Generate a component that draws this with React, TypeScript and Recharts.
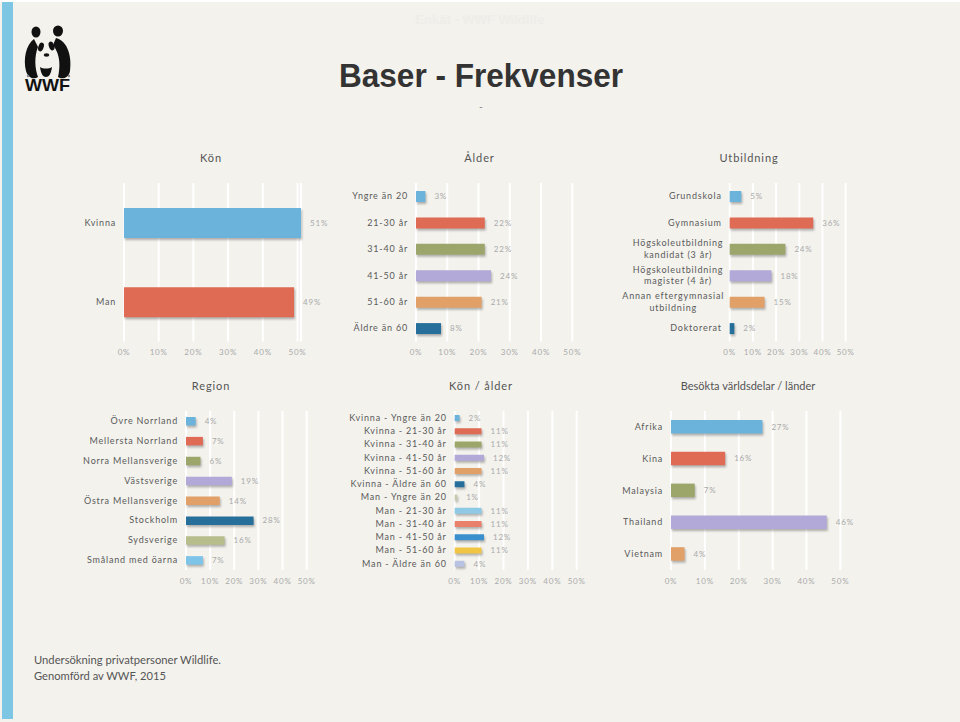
import React from "react";
import { BarChart, Bar, XAxis, YAxis, CartesianGrid, Cell, LabelList } from "recharts";

// ---------- data ----------
const percentTicks = [0, 10, 20, 30, 40, 50];

const konCategories = ["Kvinna", "Man"];
const konValues = [51, 49];

const alderCategories = ["Yngre än 20", "21-30 år", "31-40 år", "41-50 år", "51-60 år", "Äldre än 60"];
const alderValues = [3, 22, 22, 24, 21, 8];

const utbCategories = [
  "Grundskola",
  "Gymnasium",
  "Högskoleutbildning\nkandidat (3 år)",
  "Högskoleutbildning\nmagister (4 år)",
  "Annan eftergymnasial\nutbildning",
  "Doktorerat",
];
const utbValues = [5, 36, 24, 18, 15, 2];

const regionCategories = [
  "Övre Norrland",
  "Mellersta Norrland",
  "Norra Mellansverige",
  "Västsverige",
  "Östra Mellansverige",
  "Stockholm",
  "Sydsverige",
  "Småland med öarna",
];
const regionValues = [4, 7, 6, 19, 14, 28, 16, 7];

const konAlderCategories = [
  "Kvinna - Yngre än 20",
  "Kvinna - 21-30 år",
  "Kvinna - 31-40 år",
  "Kvinna - 41-50 år",
  "Kvinna - 51-60 år",
  "Kvinna - Äldre än 60",
  "Man - Yngre än 20",
  "Man - 21-30 år",
  "Man - 31-40 år",
  "Man - 41-50 år",
  "Man - 51-60 år",
  "Man - Äldre än 60",
];
const konAlderValues = [2, 11, 11, 12, 11, 4, 1, 11, 11, 12, 11, 4];

const landCategories = ["Afrika", "Kina", "Malaysia", "Thailand", "Vietnam"];
const landValues = [27, 16, 7, 46, 4];

// ---------- styles ----------
const BLUE = "#6cb3dc";
const RED = "#e06b55";
const OLIVE = "#9ca66b";
const LAVENDER = "#b3a9d9";
const ORANGE = "#e2a069";
const DARKBLUE = "#276f9b";

const konColors = [BLUE, RED];
const alderColors = [BLUE, RED, OLIVE, LAVENDER, ORANGE, DARKBLUE];
const utbColors = [BLUE, RED, OLIVE, LAVENDER, ORANGE, DARKBLUE];
const regionColors = [BLUE, RED, OLIVE, LAVENDER, ORANGE, DARKBLUE, "#b8bd8c", "#7ec4e8"];
const konAlderColors = [
  BLUE, RED, OLIVE, LAVENDER, ORANGE, DARKBLUE,
  "#cbc7ab", "#8ecae6", "#e8806c", "#3a90cc", "#f2c443", "#b8c2e2",
];
const landColors = [BLUE, RED, OLIVE, LAVENDER, ORANGE];

const FONT = "Lato, 'Open Sans', sans-serif";
const BG = "#f3f2ed";
const LABEL = "#5a5a5a";

function CategoryTick(props: any) {
  const { x, y, payload } = props;
  const lines = String(payload.value).split("\n");
  if (lines.length === 1) {
    return (
      <text x={x} y={y} dy="0.35em" textAnchor="end" fill={LABEL} fontSize={9} letterSpacing={0.8} fontFamily={FONT}>
        {lines[0]}
      </text>
    );
  }
  const maxLen = Math.max(...lines.map((l) => l.length));
  const cx = x - (maxLen * 4.85) / 2;
  const lh = 11.5;
  return (
    <text textAnchor="middle" fill={LABEL} fontSize={9} letterSpacing={0.8} fontFamily={FONT}>
      {lines.map((l, i) => (
        <tspan key={i} x={cx} y={y + (i - (lines.length - 1) / 2) * lh} dy="0.35em">
          {l}
        </tspan>
      ))}
    </text>
  );
}

function PercentTick(props: any) {
  const { x, y, payload } = props;
  return (
    <text x={x} y={y} dy="0.71em" textAnchor="middle" fill="#aaa" fontSize={8} letterSpacing={0.8} fontFamily={FONT}>
      {payload.value}%
    </text>
  );
}

function ValueLabel(props: any) {
  const { x, y, width, height, value } = props;
  return (
    <text
      x={Number(x) + Number(width) + 9}
      y={Number(y) + Number(height) / 2}
      dy="0.35em"
      fill="#aaa"
      fontSize={8}
      letterSpacing={0.8}
      fontFamily={FONT}
    >
      {value}%
    </text>
  );
}

type PanelProps = {
  categories: string[];
  values: number[];
  colors: string[];
  left: number;
  top: number;
  width: number;
  yAxisWidth: number;
  right: number;
  barSize: number;
  bottom: number;
};

function Panel({ categories, values, colors, left, top, width, yAxisWidth, right, barSize, bottom }: PanelProps) {
  const data = categories.map((name, i) => ({ name, value: values[i] }));
  return (
    <div style={{ position: "absolute", left, top, width, height: 195 }}>
      <BarChart
        width={width}
        height={195}
        data={data}
        layout="vertical"
        margin={{ top: 13, right, bottom, left: 0 }}
      >
        <CartesianGrid horizontal={false} vertical={true} stroke="#ffffff" strokeWidth={2} />
        <XAxis
          type="number"
          domain={[0, 50]}
          ticks={percentTicks}
          interval={0}
          axisLine={false}
          tickLine={false}
          height={20}
          tick={<PercentTick />}
        />
        <YAxis
          type="category"
          dataKey="name"
          width={yAxisWidth}
          axisLine={false}
          tickLine={false}
          interval={0}
          tick={<CategoryTick />}
        />
        <Bar dataKey="value" barSize={barSize} isAnimationActive={false}>
          {data.map((d, i) => (
            <Cell key={d.name} fill={colors[i]} />
          ))}
          <LabelList dataKey="value" content={<ValueLabel />} />
        </Bar>
      </BarChart>
    </div>
  );
}

const titleStyle: React.CSSProperties = {
  position: "absolute",
  transform: "translate(-50%, -50%)",
  fontFamily: FONT,
  fontSize: 11,
  color: "#555",
  letterSpacing: 0.9,
  whiteSpace: "nowrap",
};

export default function App() {
  return (
    <div style={{ position: "absolute", left: 0, top: 0, width: 960, height: 722, background: BG, overflow: "hidden", fontFamily: FONT }}>
      <style>{`.recharts-bar-rectangle path, .recharts-bar-rectangle rect { filter: drop-shadow(1px 2px 1.2px rgba(0,0,0,0.28)); }`}</style>
      <svg width={960} height={722} style={{ position: "absolute", left: 0, top: 0 }}>
        <rect x={0} y={0} width={960} height={2} fill="#ffffff" />
        <rect x={2} y={2} width={11} height={717} fill="#7dc6e4" />
        <text x={480} y={24} textAnchor="middle" fontFamily="'Liberation Sans', Arial, sans-serif" fontWeight="bold" fontSize={13} fill="#eeede8">
          Enkät - WWF Wildlife
        </text>
        {/* WWF logo */}
        <g transform="translate(24,25)" fill="#111">
          <ellipse cx={12} cy={7} rx={4.5} ry={5.5} />
          <ellipse cx={34} cy={6} rx={5} ry={5.5} />
          <path d="M10 14 C 2 20, -1 34, 2 46 C 4 53, 10 55, 14 52 C 11 44, 10 32, 14 22 Z" />
          <path d="M32 13 C 44 16, 48 32, 46 46 C 45 53, 38 55, 34 52 C 36 43, 37 30, 29 20 Z" />
          <ellipse cx={17} cy={22} rx={2.6} ry={4.5} transform="rotate(20 17 22)" />
          <ellipse cx={27.5} cy={21} rx={2.6} ry={4.5} transform="rotate(-20 27.5 21)" />
          <ellipse cx={22.5} cy={30} rx={2.8} ry={1.8} />
          <path d="M16 42 C 17 49, 19 52, 22 52 C 25 52, 27 49, 28 42 C 25 44, 19 44, 16 42 Z" />
          <circle cx={4} cy={51} r={1.2} fill="#888" />
          <circle cx={45} cy={51} r={1.2} fill="#888" />
        </g>
        <text x={25} y={91} fontFamily="'Liberation Sans', Arial, sans-serif" fontWeight="bold" fontSize={17} fill="#111" textLength={45} lengthAdjust="spacingAndGlyphs">
          WWF
        </text>
        <text x={339} y={87} fontFamily="'Liberation Sans', Arial, sans-serif" fontWeight="bold" fontSize={33} fill="#333" textLength={284} lengthAdjust="spacingAndGlyphs">
          Baser - Frekvenser
        </text>
        <text x={481} y={110} textAnchor="middle" fontFamily="'Liberation Sans', Arial, sans-serif" fontSize={10} fill="#888">
          -
        </text>
        <text x={34} y={664} fontFamily={FONT} fontSize={12} fill="#555" textLength={187} lengthAdjust="spacingAndGlyphs">
          Undersökning privatpersoner Wildlife.
        </text>
        <text x={34} y={680} fontFamily={FONT} fontSize={12} fill="#555" textLength={132} lengthAdjust="spacingAndGlyphs">
          Genomförd av WWF, 2015
        </text>
      </svg>

      <div style={{ ...titleStyle, left: 211, top: 157 }}>Kön</div>
      <div style={{ ...titleStyle, left: 479.5, top: 157 }}>Ålder</div>
      <div style={{ ...titleStyle, left: 749, top: 157 }}>Utbildning</div>
      <div style={{ ...titleStyle, left: 211, top: 385 }}>Region</div>
      <div style={{ ...titleStyle, left: 481, top: 385 }}>Kön / ålder</div>
      <div style={{ ...titleStyle, left: 748, top: 385, letterSpacing: 0 }}>Besökta världsdelar / länder</div>

      <Panel categories={konCategories} values={konValues} colors={konColors} left={20} top={170} width={320} yAxisWidth={104} right={39} barSize={30} bottom={3.5} />
      <Panel categories={alderCategories} values={alderValues} colors={alderColors} left={340} top={170} width={260} yAxisWidth={76} right={27.7} barSize={11} bottom={3.5} />
      <Panel categories={utbCategories} values={utbValues} colors={utbColors} left={600} top={170} width={355} yAxisWidth={129.7} right={109.3} barSize={11} bottom={3.5} />
      <Panel categories={regionCategories} values={regionValues} colors={regionColors} left={20} top={398} width={320} yAxisWidth={166} right={33.3} barSize={8.5} bottom={3} />
      <Panel categories={konAlderCategories} values={konAlderValues} colors={konAlderColors} left={340} top={398} width={260} yAxisWidth={114.7} right={23.3} barSize={6} bottom={3} />
      <Panel categories={landCategories} values={landValues} colors={landColors} left={600} top={398} width={355} yAxisWidth={71} right={114.7} barSize={13.5} bottom={3} />
    </div>
  );
}
